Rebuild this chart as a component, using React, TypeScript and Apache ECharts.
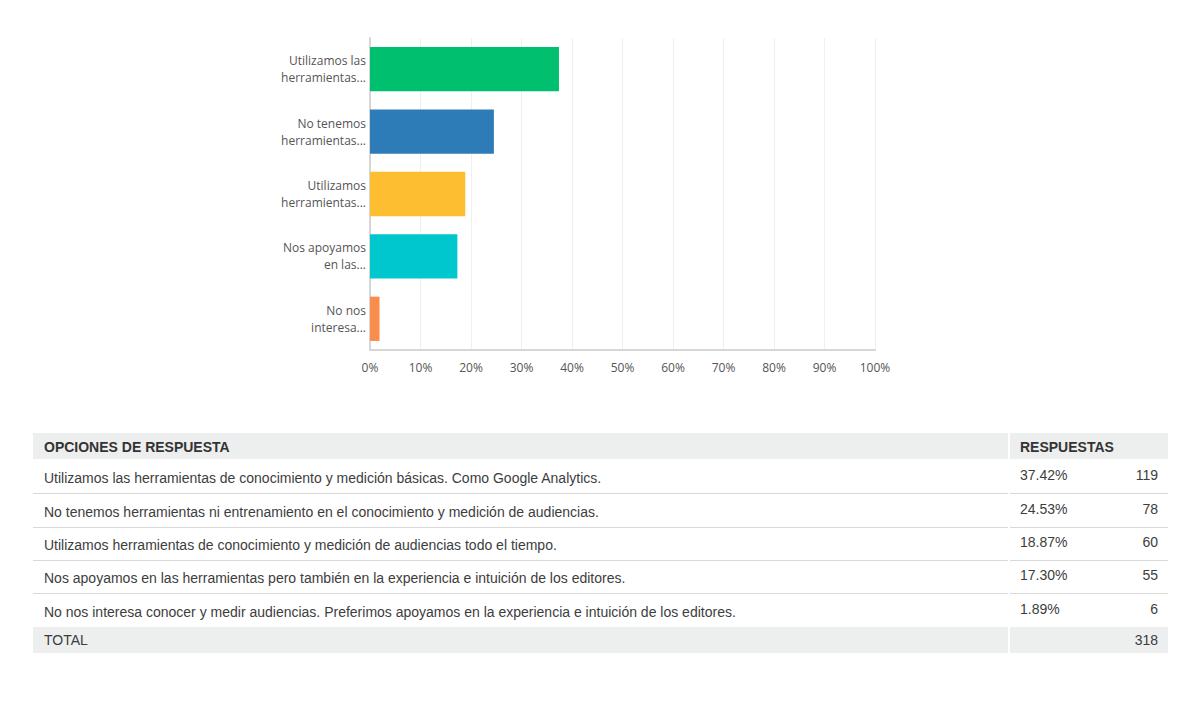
import React, { useEffect, useRef } from "react";
import * as echarts from "echarts";

const shortLabels = [
  "Utilizamos las\nherramientas...",
  "No tenemos\nherramientas...",
  "Utilizamos\nherramientas...",
  "Nos apoyamos\nen las...",
  "No nos\ninteresa...",
];
const fullLabels = [
  "Utilizamos las herramientas de conocimiento y medición básicas. Como Google Analytics.",
  "No tenemos herramientas ni entrenamiento en el conocimiento y medición de audiencias.",
  "Utilizamos herramientas de conocimiento y medición de audiencias todo el tiempo.",
  "Nos apoyamos en las herramientas pero también en la experiencia e intuición de los editores.",
  "No nos interesa conocer y medir audiencias. Preferimos apoyamos en la experiencia e intuición de los editores.",
];
const percents = [37.42, 24.53, 18.87, 17.3, 1.89];
const counts = [119, 78, 60, 55, 6];
const total = 318;
const barColors = ["#00BF6F", "#2D7BB7", "#FEBE32", "#00C7CE", "#F98D4E"];
const headerLeft = "OPCIONES DE RESPUESTA";
const headerRight = "RESPUESTAS";
const totalLabel = "TOTAL";

export default function App() {
  const ref = useRef<HTMLDivElement>(null);
  useEffect(() => {
    if (!ref.current) return;
    const chart = echarts.init(ref.current, null, { renderer: "svg" });

    const tableFont = "'Liberation Sans', Arial, sans-serif";
    const textColor = "#3d3d3d";
    const g: any[] = [];
    // header
    g.push({ type: "rect", shape: { x: 33, y: 433, width: 975, height: 26 }, style: { fill: "#EDEEEE" } });
    g.push({ type: "rect", shape: { x: 1010, y: 433, width: 158, height: 26 }, style: { fill: "#EDEEEE" } });
    g.push({ type: "text", x: 44, y: 447, style: { text: headerLeft, font: `bold 14px ${tableFont}`, fill: "#333", verticalAlign: "middle" } });
    g.push({ type: "text", x: 1020, y: 447, style: { text: headerRight, font: `bold 14px ${tableFont}`, fill: "#333", verticalAlign: "middle" } });
    const rowTops = [460, 494, 527, 560, 594];
    const rowH = 33;
    fullLabels.forEach((lab, i) => {
      const top = rowTops[i];
      g.push({ type: "text", x: 44, y: top + 18, style: { text: lab, font: `14px ${tableFont}`, fill: textColor, verticalAlign: "middle" } });
      g.push({ type: "text", x: 1020, y: top + 15, style: { text: percents[i].toFixed(2) + "%", font: `14px ${tableFont}`, fill: textColor, verticalAlign: "middle" } });
      g.push({ type: "text", x: 1158, y: top + 15, style: { text: String(counts[i]), font: `14px ${tableFont}`, fill: textColor, align: "right", verticalAlign: "middle" } });
      if (i < fullLabels.length - 1) {
        g.push({ type: "line", shape: { x1: 33, y1: top + rowH + 0.5, x2: 1008, y2: top + rowH + 0.5 }, style: { stroke: "#D9D9D9", lineWidth: 1 } });
        g.push({ type: "line", shape: { x1: 1010, y1: top + rowH + 0.5, x2: 1168, y2: top + rowH + 0.5 }, style: { stroke: "#D9D9D9", lineWidth: 1 } });
      }
    });
    // total row
    g.push({ type: "rect", shape: { x: 33, y: 627, width: 975, height: 26 }, style: { fill: "#EDEEEE" } });
    g.push({ type: "rect", shape: { x: 1010, y: 627, width: 158, height: 26 }, style: { fill: "#EDEEEE" } });
    g.push({ type: "text", x: 44, y: 640, style: { text: totalLabel, font: `14px ${tableFont}`, fill: textColor, verticalAlign: "middle" } });
    g.push({ type: "text", x: 1158, y: 640, style: { text: String(total), font: `14px ${tableFont}`, fill: textColor, align: "right", verticalAlign: "middle" } });

    chart.setOption({
      animation: false,
      backgroundColor: "#fff",
      grid: { left: 370, right: 325, top: 38, bottom: 373, containLabel: false },
      xAxis: {
        type: "value",
        min: 0,
        max: 100,
        interval: 10,
        axisLabel: { formatter: "{value}%", color: "#555", fontFamily: "'Open Sans', sans-serif", fontSize: 12, margin: 11 },
        axisLine: { show: true, lineStyle: { color: "#D6D6D6", width: 2 } },
        axisTick: { show: false },
        splitLine: { show: true, lineStyle: { color: "#EFEFEF", width: 1 } },
      },
      yAxis: {
        type: "category",
        inverse: true,
        data: shortLabels,
        axisLine: { show: true, lineStyle: { color: "#D6D6D6", width: 2 } },
        axisTick: { show: false },
        axisLabel: { color: "#555", fontFamily: "'Open Sans', sans-serif", fontSize: 12, lineHeight: 17, margin: 4 },
      },
      series: [
        {
          type: "bar",
          data: percents.map((v, i) => ({ value: v, itemStyle: { color: barColors[i] } })),
          barCategoryGap: "29%",
        },
      ],
      graphic: g,
    });
    return () => chart.dispose();
  }, []);
  return <div ref={ref} style={{ position: "absolute", left: 0, top: 0, width: 1200, height: 723 }} />;
}
